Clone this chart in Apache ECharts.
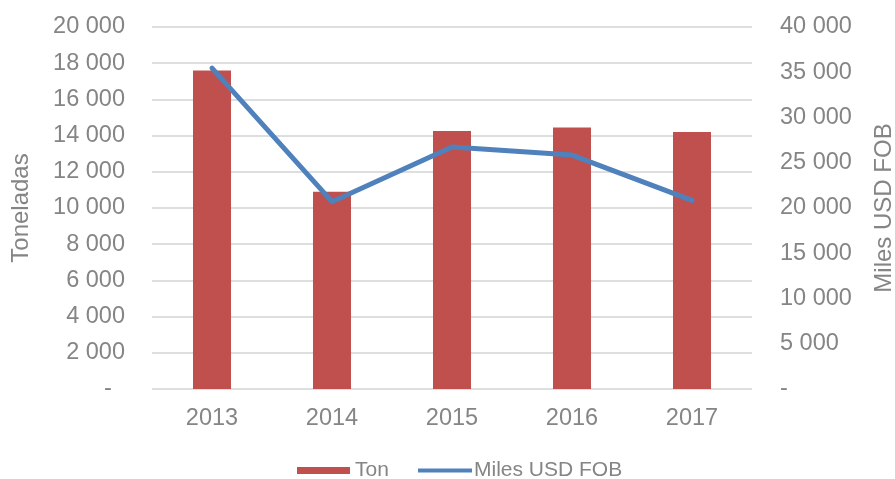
<!DOCTYPE html>
<html>
<head>
<meta charset="utf-8">
<script src="https://cdn.jsdelivr.net/npm/echarts@6/dist/echarts.min.js"></script>
<style>
  html, body { margin: 0; padding: 0; background: #ffffff; }
  #chart { width: 895px; height: 479px; }
</style>
</head>
<body>
<div id="chart"></div>
<script>
// Categories and series values
const years = ['2013', '2014', '2015', '2016', '2017'];
const toneladas = [17600, 10900, 14250, 14450, 14200];
const milesUsdFob = [35450, 20700, 26750, 25850, 20850];

const seriesNames = ['Ton', 'Miles USD FOB'];
const leftAxisName = 'Toneladas';
const rightAxisName = 'Miles USD FOB';

const textColor = '#858585';
const fontFamily = 'Liberation Sans, Arial, sans-serif';
const barColor = '#c0504d';
const lineColor = '#4f81bd';

// Thousands separated by a space, zero shown as a dash
function fmt(v) {
  if (v === 0) return '-';
  return String(v).replace(/\B(?=(\d{3})+(?!\d))/g, ' ');
}

const chart = echarts.init(document.getElementById('chart'));
chart.setOption({
  animation: false,
  textStyle: { fontFamily: fontFamily },
  grid: { left: 152, right: 143, top: 27, bottom: 90, outerBoundsMode: 'none', containLabel: false },
  legend: [
    {
      data: [seriesNames[0]],
      left: 292, top: 455,
      icon: 'rect', itemWidth: 53, itemHeight: 7,
      textStyle: { color: textColor, fontSize: 21, fontFamily: fontFamily }
    },
    {
      data: [{ name: seriesNames[1], icon: 'rect', itemStyle: { color: lineColor } }],
      left: 413, top: 455,
      itemWidth: 54, itemHeight: 4,
      textStyle: { color: textColor, fontSize: 21, fontFamily: fontFamily, padding: [0, 0, 0, -3] }
    }
  ],
  xAxis: {
    type: 'category',
    data: years,
    axisLine: { show: false },
    axisTick: { show: false },
    axisLabel: { color: textColor, fontSize: 23.5, margin: 18 }
  },
  yAxis: [
    {
      type: 'value',
      min: 0, max: 20000, interval: 2000,
      name: leftAxisName,
      nameLocation: 'middle',
      nameGap: 119,
      nameTextStyle: { color: textColor, fontSize: 24 },
      axisLine: { show: false },
      axisTick: { show: false },
      axisLabel: {
        color: textColor, fontSize: 23.5, margin: 27,
        formatter: function (v) { return v === 0 ? '-  ' : fmt(v); }
      },
      splitLine: { lineStyle: { color: '#dedede', width: 2 } }
    },
    {
      type: 'value',
      min: 0, max: 40000, interval: 5000,
      name: rightAxisName,
      nameLocation: 'middle',
      nameGap: 120,
      nameRotate: 90,
      nameTextStyle: { color: textColor, fontSize: 24 },
      axisLine: { show: false },
      axisTick: { show: false },
      axisLabel: {
        color: textColor, fontSize: 23.5, margin: 28,
        formatter: function (v) { return fmt(v); }
      },
      splitLine: { show: false }
    }
  ],
  series: [
    {
      name: seriesNames[0],
      type: 'bar',
      data: toneladas,
      barWidth: 38,
      itemStyle: { color: barColor }
    },
    {
      name: seriesNames[1],
      type: 'line',
      yAxisIndex: 1,
      data: milesUsdFob,
      symbol: 'none',
      showSymbol: false,
      lineStyle: { color: lineColor, width: 5, join: 'round', cap: 'round' },
      itemStyle: { color: lineColor }
    }
  ]
});
</script>
</body>
</html>
